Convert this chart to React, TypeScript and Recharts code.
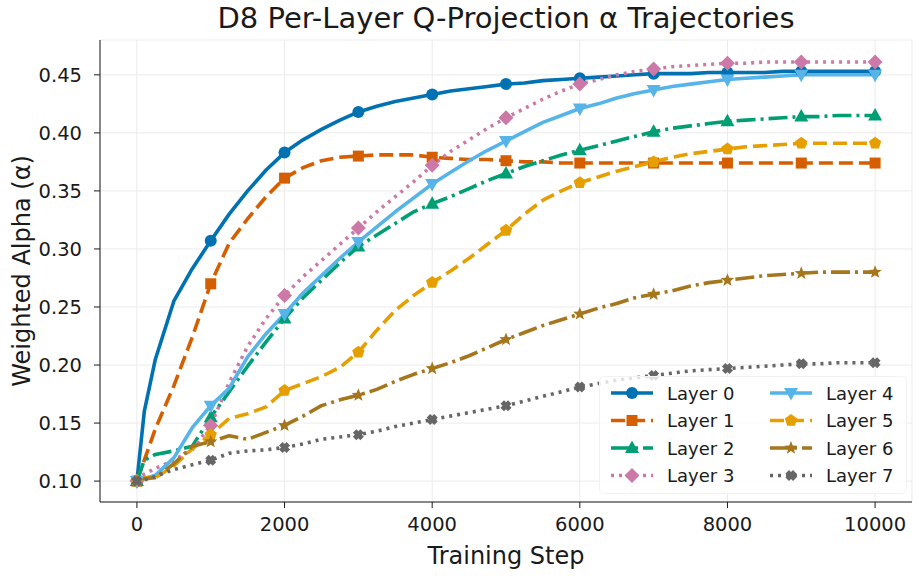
import React from "react";
import {
  LineChart,
  Line,
  XAxis,
  YAxis,
  CartesianGrid,
  Label,
} from "recharts";

// training steps (x values)
const steps = [
  0, 100, 250, 500, 750, 1000, 1250, 1500, 1750, 2000, 2250, 2500, 2750, 3000,
  3250, 3500, 3750, 4000, 4250, 4500, 4750, 5000, 5250, 5500, 5750, 6000, 6250,
  6500, 6750, 7000, 7250, 7500, 7750, 8000, 8250, 8500, 8750, 9000, 9250, 9500,
  9750, 10000,
];

const layer0 = [
  0.1, 0.16, 0.205, 0.255, 0.283, 0.307, 0.33, 0.35, 0.368, 0.383, 0.394, 0.403,
  0.411, 0.418, 0.423, 0.427, 0.43, 0.433, 0.436, 0.438, 0.44, 0.442, 0.443,
  0.445, 0.446, 0.447, 0.448, 0.449, 0.45, 0.451, 0.451, 0.451, 0.452, 0.452,
  0.452, 0.452, 0.453, 0.453, 0.453, 0.453, 0.453, 0.453,
];
const layer1 = [
  0.1, 0.118, 0.145, 0.182, 0.224, 0.27, 0.305, 0.326, 0.345, 0.361, 0.37, 0.376,
  0.379, 0.38, 0.381, 0.381, 0.381, 0.379, 0.378, 0.377, 0.377, 0.376, 0.375,
  0.375, 0.374, 0.374, 0.374, 0.374, 0.374, 0.374, 0.374, 0.374, 0.374, 0.374,
  0.374, 0.374, 0.374, 0.374, 0.374, 0.374, 0.374, 0.374,
];
const layer2 = [
  0.1, 0.118, 0.123, 0.126, 0.13, 0.155, 0.177, 0.199, 0.22, 0.24, 0.258, 0.273,
  0.288, 0.302, 0.312, 0.322, 0.332, 0.339, 0.345, 0.352, 0.359, 0.365, 0.371,
  0.376, 0.381, 0.385, 0.389, 0.393, 0.397, 0.401, 0.404, 0.406, 0.408, 0.41,
  0.411, 0.412, 0.413, 0.414, 0.414, 0.415, 0.415, 0.415,
];
const layer3 = [
  0.1, 0.106, 0.111, 0.118, 0.127, 0.148, 0.185, 0.216, 0.24, 0.26, 0.276, 0.29,
  0.304, 0.318, 0.332, 0.345, 0.358, 0.372, 0.384, 0.394, 0.404, 0.413, 0.421,
  0.429, 0.436, 0.442, 0.446, 0.45, 0.453, 0.455, 0.457, 0.458, 0.459, 0.46,
  0.46, 0.461, 0.461, 0.461, 0.461, 0.461, 0.461, 0.461,
];
const layer4 = [
  0.1, 0.102, 0.105, 0.12, 0.146, 0.165, 0.18, 0.207, 0.227, 0.244, 0.262, 0.277,
  0.292, 0.306, 0.319, 0.332, 0.344, 0.356, 0.366, 0.376, 0.385, 0.393, 0.401,
  0.409, 0.415, 0.421, 0.425, 0.43, 0.434, 0.437, 0.44, 0.442, 0.444, 0.446,
  0.447, 0.448, 0.449, 0.45, 0.45, 0.45, 0.45, 0.45,
];
const layer5 = [
  0.1, 0.103, 0.103, 0.113, 0.128, 0.14, 0.154, 0.158, 0.164, 0.178, 0.184, 0.19,
  0.198, 0.211, 0.23, 0.247, 0.26, 0.271, 0.281, 0.292, 0.304, 0.316, 0.33,
  0.342, 0.35, 0.357, 0.362, 0.367, 0.371, 0.375, 0.379, 0.382, 0.384, 0.386,
  0.388, 0.389, 0.39, 0.391, 0.391, 0.391, 0.391, 0.391,
];
const layer6 = [
  0.1, 0.102, 0.103, 0.115, 0.13, 0.134, 0.139, 0.136, 0.142, 0.148, 0.156, 0.165,
  0.17, 0.174, 0.179, 0.186, 0.192, 0.197, 0.202, 0.208, 0.215, 0.222, 0.228,
  0.234, 0.239, 0.244, 0.249, 0.253, 0.258, 0.261, 0.264, 0.268, 0.271, 0.273,
  0.275, 0.277, 0.278, 0.279, 0.28, 0.28, 0.28, 0.28,
];
const layer7 = [
  0.1, 0.101, 0.104, 0.11, 0.114, 0.118, 0.124, 0.126, 0.127, 0.129, 0.132, 0.136,
  0.138, 0.14, 0.143, 0.147, 0.15, 0.153, 0.156, 0.159, 0.162, 0.165, 0.169,
  0.173, 0.177, 0.181, 0.184, 0.187, 0.189, 0.191, 0.193, 0.195, 0.196, 0.197,
  0.198, 0.199, 0.2, 0.201, 0.201, 0.202, 0.202, 0.202,
];

const xTicks = [0, 2000, 4000, 6000, 8000, 10000];
const yTicks = [0.1, 0.15, 0.2, 0.25, 0.3, 0.35, 0.4, 0.45];

type Shape = "circle" | "square" | "tri" | "diamond" | "triDown" | "pentagon" | "star" | "x";

const series: { key: string; name: string; values: number[]; color: string; dash?: string; shape: Shape }[] = [
  { key: "l0", name: "Layer 0", values: layer0, color: "#0072B2", shape: "circle" },
  { key: "l1", name: "Layer 1", values: layer1, color: "#D55E00", dash: "14 6", shape: "square" },
  { key: "l2", name: "Layer 2", values: layer2, color: "#009E73", dash: "19 5 3 5", shape: "tri" },
  { key: "l3", name: "Layer 3", values: layer3, color: "#CC79A7", dash: "3 5", shape: "diamond" },
  { key: "l4", name: "Layer 4", values: layer4, color: "#56B4E9", shape: "triDown" },
  { key: "l5", name: "Layer 5", values: layer5, color: "#E69F00", dash: "14 6", shape: "pentagon" },
  { key: "l6", name: "Layer 6", values: layer6, color: "#A6761D", dash: "19 5 3 5", shape: "star" },
  { key: "l7", name: "Layer 7", values: layer7, color: "#666666", dash: "3 5", shape: "x" },
];

const data = steps.map((step, i) => {
  const row: Record<string, number> = { step };
  series.forEach((s) => (row[s.key] = s.values[i]));
  return row;
});

const FONT = "'DejaVu Sans', sans-serif";
const INK = "#1a1a1a";
const LW = 3.6;

const poly = (pts: number[][], x: number, y: number) =>
  pts.map(([a, b]) => `${x + a},${y + b}`).join(" ");

const regular = (n: number, r: number, rot: number) =>
  Array.from({ length: n }, (_, k) => {
    const a = rot + (k * 2 * Math.PI) / n;
    return [r * Math.cos(a), r * Math.sin(a)];
  });

const starPts = Array.from({ length: 10 }, (_, k) => {
  const a = -Math.PI / 2 + (k * Math.PI) / 5;
  const r = k % 2 === 0 ? 7 : 3;
  return [r * Math.cos(a), r * Math.sin(a)];
});

const xPts = [
  [-2, -5.5], [0, -3.5], [2, -5.5], [5.5, -2], [3.5, 0], [5.5, 2], [2, 5.5],
  [0, 3.5], [-2, 5.5], [-5.5, 2], [-3.5, 0], [-5.5, -2],
];

const Marker = ({ shape, x, y, color }: { shape: Shape; x: number; y: number; color: string }) => {
  switch (shape) {
    case "circle":
      return <circle cx={x} cy={y} r={6} fill={color} />;
    case "square":
      return <rect x={x - 5.5} y={y - 5.5} width={11} height={11} fill={color} />;
    case "tri":
      return <polygon points={poly([[0, -7.5], [7, 5], [-7, 5]], x, y)} fill={color} />;
    case "triDown":
      return <polygon points={poly([[0, 7.5], [7, -5], [-7, -5]], x, y)} fill={color} />;
    case "diamond":
      return <polygon points={poly([[0, -7.5], [7.5, 0], [0, 7.5], [-7.5, 0]], x, y)} fill={color} />;
    case "pentagon":
      return <polygon points={poly(regular(5, 6.5, -Math.PI / 2), x, y)} fill={color} />;
    case "star":
      return <polygon points={poly(starPts, x, y)} fill={color} />;
    case "x":
      return <polygon points={poly(xPts, x, y)} fill={color} />;
  }
  return null;
};

const makeDot = (shape: Shape, color: string) => (props: any) => {
  const { cx, cy, payload, index } = props;
  if (payload.step % 1000 !== 0 || cx == null) return <g key={`e-${index}`} />;
  return (
    <g key={`m-${index}`}>
      <Marker shape={shape} x={cx} y={cy} color={color} />
    </g>
  );
};

const LegendBox = () => (
  <svg
    width={308}
    height={118}
    style={{ position: "absolute", left: 599, top: 376 }}
  >
    <rect x={0.5} y={0.5} width={307} height={117} rx={4} fill="#fff" fillOpacity={0.8} stroke="#f2f2f2" />
    {series.map((s, i) => {
      const col = Math.floor(i / 4);
      const row = i % 4;
      const x0 = col === 0 ? 12 : 171;
      const y = 17 + row * 27.5;
      return (
        <g key={s.key}>
          <line x1={x0} x2={x0 + 42} y1={y} y2={y} stroke={s.color} strokeWidth={LW} strokeDasharray={s.dash} />
          <Marker shape={s.shape} x={x0 + 21} y={y} color={s.color} />
          <text x={x0 + 56} y={y} dominantBaseline="central" fontSize={18} fontFamily={FONT} fill={INK}>
            {s.name}
          </text>
        </g>
      );
    })}
  </svg>
);

export default function App() {
  return (
    <div style={{ position: "absolute", left: 0, top: 0, width: 919, height: 576, background: "#fff", fontFamily: FONT }}>
      <div
        style={{
          position: "absolute",
          top: 0,
          left: 100,
          width: 812,
          textAlign: "center",
          fontSize: 29,
          lineHeight: "36px",
          color: INK,
        }}
      >
        D8 Per-Layer Q-Projection α Trajectories
      </div>
      <LineChart
        width={919}
        height={576}
        data={data}
        margin={{ top: 40, right: 7, bottom: 0, left: 0 }}
        style={{ position: "absolute", left: 0, top: 0 }}
      >
        <CartesianGrid stroke="#ebebeb" strokeWidth={1} />
        <XAxis
          dataKey="step"
          type="number"
          domain={[-500, 10500]}
          ticks={xTicks}
          height={74}
          tickSize={6}
          tickMargin={9}
          stroke={INK}
          tick={{ fontSize: 19.5, fontFamily: FONT, fill: INK }}
          allowDataOverflow
        >
          <Label value="Training Step" position="insideBottom" offset={12} style={{ fontSize: 24, fontFamily: FONT, fill: INK }} />
        </XAxis>
        <YAxis
          type="number"
          domain={[0.082, 0.48]}
          ticks={yTicks}
          width={100}
          tickSize={6}
          tickMargin={12}
          stroke={INK}
          tickFormatter={(v: number) => v.toFixed(2)}
          tick={{ fontSize: 19.5, fontFamily: FONT, fill: INK }}
          allowDataOverflow
        >
          <Label
            content={(p: any) => {
              const vb = p.viewBox || { y: 40, height: 462 };
              const cy = vb.y + vb.height / 2;
              return (
                <text
                  x={22}
                  y={cy}
                  transform={`rotate(-90, 22, ${cy})`}
                  textAnchor="middle"
                  dominantBaseline="central"
                  fontSize={24}
                  fontFamily={FONT}
                  fill={INK}
                >
                  Weighted Alpha (α)
                </text>
              );
            }}
          />
        </YAxis>
        {series.map((s) => (
          <Line
            key={s.key}
            type="linear"
            dataKey={s.key}
            name={s.name}
            stroke={s.color}
            strokeWidth={LW}
            strokeDasharray={s.dash}
            strokeLinejoin="round"
            dot={makeDot(s.shape, s.color)}
            activeDot={false}
            isAnimationActive={false}
          />
        ))}
      </LineChart>
      <LegendBox />
    </div>
  );
}
